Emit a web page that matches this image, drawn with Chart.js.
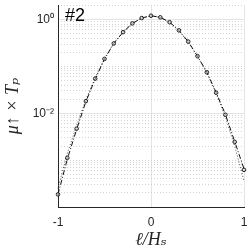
<!DOCTYPE html>
<html><head><meta charset="utf-8">
<script src="https://cdn.jsdelivr.net/npm/chart.js@4/dist/chart.umd.min.js"></script>
<style>html,body{margin:0;padding:0;background:#fff;overflow:hidden}#w{width:249px;height:251px;position:relative}</style>
</head><body><div id="w"><canvas id="c" width="249" height="251"></canvas></div>
<script>
const xVals = [-1,-0.9,-0.8,-0.7,-0.6,-0.5,-0.4,-0.3,-0.2,-0.1,0,0.1,0.2,0.3,0.4,0.5,0.6,0.7,0.8,0.9,1];
const muMarkers = [1.86e-4,1.12e-3,4.7e-3,0.0182,0.055,0.145,0.31,0.54,0.83,1.08,1.21,1.12,0.88,0.59,0.34,0.166,0.075,0.0275,0.0093,0.00245,6.2e-4];
const muDashed = [1.86e-4,1.05e-3,4.5e-3,0.0178,0.054,0.143,0.31,0.54,0.83,1.08,1.21,1.12,0.88,0.59,0.34,0.166,0.076,0.028,0.0095,0.0025,6.5e-4];
const muDotted = [2.5e-4,1.4e-3,5.4e-3,0.0195,0.057,0.148,0.315,0.545,0.83,1.08,1.2,1.11,0.87,0.58,0.33,0.163,0.073,0.0265,0.0085,0.002,3.6e-4];
const xTicks = [-1,0,1];
const yMajorTicks = [0.01,1];
const yMajorLabels = {'0.01':'10\u207B\u00B2','1':'10\u2070'};
const yMinorTicks = [2e-4,3e-4,4e-4,5e-4,6e-4,7e-4,8e-4,9e-4,1e-3,2e-3,3e-3,4e-3,5e-3,6e-3,7e-3,8e-3,9e-3,2e-2,3e-2,4e-2,5e-2,6e-2,7e-2,8e-2,9e-2,0.1,0.2,0.3,0.4,0.5,0.6,0.7,0.8,0.9,2];
const panelLabel = '#2';
const yMin = 1e-4, yMax = 2.05;

const pts = arr => xVals.map((x,i)=>({x:x,y:arr[i]}));
const ink = '#262626';

const labelPlugin = {
  id:'panelLabel',
  afterDraw(chart){
    const ctx = chart.ctx;
    ctx.save();
    ctx.font = '18px "Liberation Sans", Arial, sans-serif';
    ctx.fillStyle = '#000';
    ctx.textBaseline = 'alphabetic';
    ctx.fillText(panelLabel, chart.chartArea.left + 7, 21);
    ctx.restore();
  }
};

new Chart(document.getElementById('c'), {
  type:'line',
  data:{datasets:[
    {data:pts(muDotted), borderColor:'#444', borderWidth:1, borderDash:[1,2], pointRadius:0, fill:false, clip:false, order:3},
    {data:pts(muDashed), borderColor:'#111', borderWidth:1, borderDash:[5,2,1,2], pointRadius:0, fill:false, clip:false, order:2},
    {data:pts(muMarkers), showLine:false, pointRadius:1.8, pointBorderWidth:1, pointBorderColor:'#222', pointBackgroundColor:'rgba(200,200,200,0.6)', clip:false, order:1}
  ]},
  options:{
    responsive:false, animation:false, devicePixelRatio:1,
    layout:{padding:{top:0,right:3,left:0,bottom:0}},
    plugins:{legend:{display:false}, tooltip:{enabled:false}},
    scales:{
      x:{type:'linear', min:-1, max:1,
        afterBuildTicks(a){ a.ticks = xTicks.map(v=>({value:v})); },
        afterFit(a){ a.height = 44; a.paddingLeft = 0; a.paddingRight = 0; },
        grid:{color:'#e4e4e4', drawTicks:false, lineWidth:1},
        border:{color:ink, width:1},
        ticks:{color:ink, font:{size:12, family:'"Liberation Sans", Arial, sans-serif'}, padding:8, maxRotation:0,
          callback:v=>String(v)},
        title:{display:true, text:'\u2113/H\u209B', color:ink, font:{size:18, style:'italic', family:'"Liberation Serif", "DejaVu Serif", serif'}, padding:{top:0,bottom:0}}
      },
      y:{type:'logarithmic', position:'left', min:yMin, max:yMax,
        afterBuildTicks(a){ a.ticks = yMajorTicks.map(v=>({value:v, major:true})); },
        afterFit(a){ a.width = 58; a.paddingTop = 0; a.paddingBottom = 0; },
        grid:{color:'#e4e4e4', drawTicks:false, lineWidth:1},
        border:{color:ink, width:1},
        ticks:{color:ink, font:{size:12, family:'"Liberation Sans", Arial, sans-serif'}, padding:4,
          callback:v=>yMajorLabels[String(v)] || ''},
        title:{display:true, text:'\u03BC\u2191 \u00D7 T\u209A', color:ink, font:{size:18, style:'italic', family:'"Liberation Serif", "DejaVu Serif", serif'}, padding:{top:2,bottom:0}}
      },
      y2:{type:'logarithmic', position:'left', min:yMin, max:yMax,
        afterBuildTicks(a){ a.ticks = yMinorTicks.map(v=>({value:v})); },
        afterFit(a){ a.width = 0; a.paddingTop = 0; a.paddingBottom = 0; },
        grid:{color:'#d2d2d2', drawTicks:false, lineWidth:1},
        border:{display:false, dash:[1,2]},
        ticks:{display:false}
      }
    }
  },
  plugins:[labelPlugin]
});
</script></body></html>
